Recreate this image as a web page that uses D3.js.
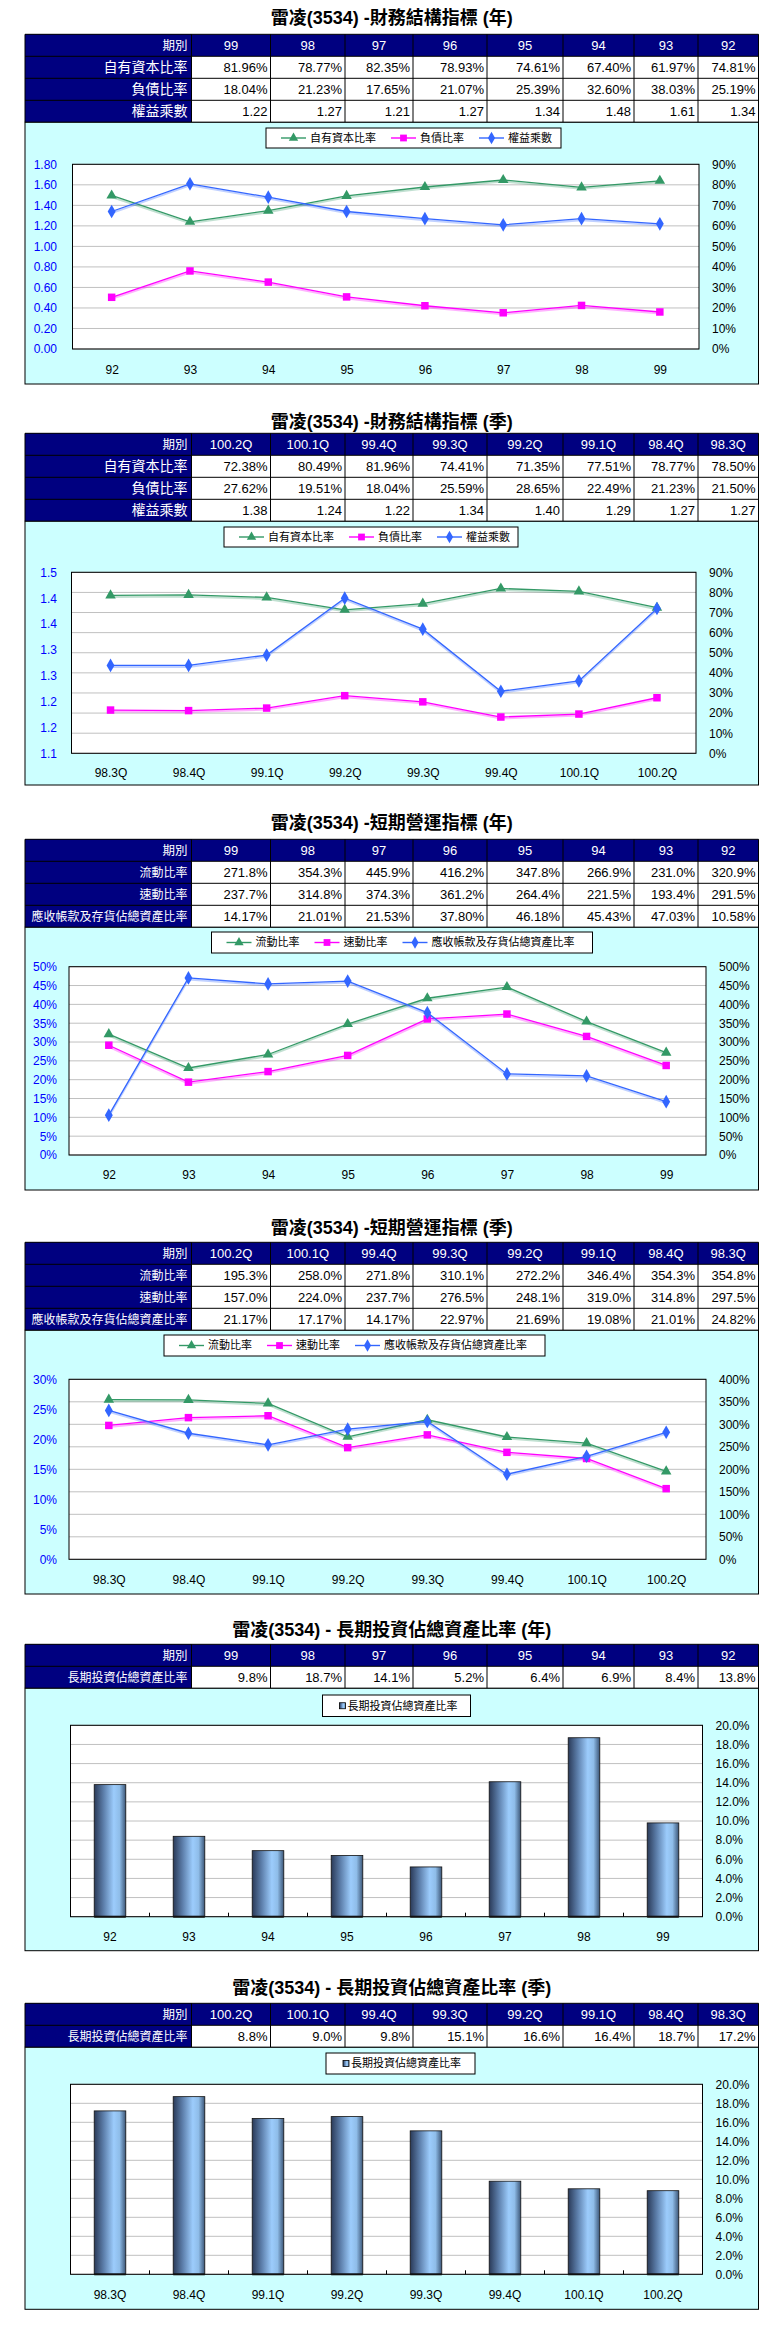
<!DOCTYPE html>
<html><head><meta charset="utf-8">
<script src="https://cdn.jsdelivr.net/npm/d3@7/dist/d3.min.js"></script>
<style>body{margin:0;background:#fff}svg{display:block}</style>
</head><body>
<svg id="c" width="772" height="2334"></svg>
<script>
// ---------------- DATA ----------------
const yearPeriods = ["99","98","97","96","95","94","93","92"];
const quarterPeriods = ["100.2Q","100.1Q","99.4Q","99.3Q","99.2Q","99.1Q","98.4Q","98.3Q"];

// 財務結構指標 (年)
const fsYearEquity = [81.96,78.77,82.35,78.93,74.61,67.40,61.97,74.81];
const fsYearDebt   = [18.04,21.23,17.65,21.07,25.39,32.60,38.03,25.19];
const fsYearMult   = [1.22,1.27,1.21,1.27,1.34,1.48,1.61,1.34];
// 財務結構指標 (季)
const fsQEquity = [72.38,80.49,81.96,74.41,71.35,77.51,78.77,78.50];
const fsQDebt   = [27.62,19.51,18.04,25.59,28.65,22.49,21.23,21.50];
const fsQMult   = [1.38,1.24,1.22,1.34,1.40,1.29,1.27,1.27];
// 短期營運指標 (年)
const stYearCurrent = [271.8,354.3,445.9,416.2,347.8,266.9,231.0,320.9];
const stYearQuick   = [237.7,314.8,374.3,361.2,264.4,221.5,193.4,291.5];
const stYearRecv    = [14.17,21.01,21.53,37.80,46.18,45.43,47.03,10.58];
// 短期營運指標 (季)
const stQCurrent = [195.3,258.0,271.8,310.1,272.2,346.4,354.3,354.8];
const stQQuick   = [157.0,224.0,237.7,276.5,248.1,319.0,314.8,297.5];
const stQRecv    = [21.17,17.17,14.17,22.97,21.69,19.08,21.01,24.82];
// 長期投資佔總資產比率
const ltYear    = [9.8,18.7,14.1,5.2,6.4,6.9,8.4,13.8];
const ltQuarter = [8.8,9.0,9.8,15.1,16.6,16.4,18.7,17.2];

// tick values / labels
const fsYearLeftTicks  = [0,0.2,0.4,0.6,0.8,1.0,1.2,1.4,1.6,1.8];
const pct90Ticks       = [0,10,20,30,40,50,60,70,80,90];
const fsQLeftTicks     = [1.10,1.15,1.20,1.25,1.30,1.35,1.40,1.45];
const fsQLeftLabels    = ["1.1","1.2","1.2","1.3","1.3","1.4","1.4","1.5"];
const pct50Ticks       = [0,5,10,15,20,25,30,35,40,45,50];
const pct500Ticks      = [0,50,100,150,200,250,300,350,400,450,500];
const pct30Ticks       = [0,5,10,15,20,25,30];
const pct400Ticks      = [0,50,100,150,200,250,300,350,400];
const pct20Ticks       = [0,2,4,6,8,10,12,14,16,18,20];

// ---------------- DRAWING ----------------
const svg = d3.select("#c");
const FONT = "'Liberation Sans','Noto Sans CJK TC',sans-serif";
const colX = [25,191.5,270.5,345,413,487,563,634,698,758.5];
const ROWH = 22;
const GREEN="#339966", MAG="#FF00FF", BLUE="#3366FF";

const defs = svg.append("defs");
const grad = defs.append("linearGradient").attr("id","barGrad").attr("x1","0").attr("x2","1").attr("y1","0").attr("y2","0");
[[0,"#2a3a58"],[0.3,"#5d7fab"],[0.62,"#9cccfc"],[0.8,"#8fbde9"],[1,"#3c5677"]].forEach(([o,c])=>grad.append("stop").attr("offset",o).attr("stop-color",c));

function drawTitle(text, cy){
  svg.append("text").attr("x",(colX[0]+colX[9])/2).attr("y",cy).attr("dy","0.36em")
    .attr("text-anchor","middle").attr("font-family",FONT).attr("font-weight","bold")
    .attr("font-size",18).attr("fill","#000").text(text);
}

function drawTable(top, periods, rows, labelSize){
  const g = svg.append("g");
  const n = rows.length+1;
  const W = colX[9]-colX[0];
  g.append("rect").attr("x",colX[0]).attr("y",top).attr("width",W).attr("height",ROWH).attr("fill","#000080");
  g.append("rect").attr("x",colX[0]).attr("y",top).attr("width",colX[1]-colX[0]).attr("height",ROWH*n).attr("fill","#000080");
  g.append("rect").attr("x",colX[1]).attr("y",top+ROWH).attr("width",colX[9]-colX[1]).attr("height",ROWH*rows.length).attr("fill","#fff");
  for(let i=0;i<=n;i++){
    g.append("line").attr("x1",colX[0]).attr("x2",colX[9]).attr("y1",top+ROWH*i).attr("y2",top+ROWH*i).attr("stroke","#000");
  }
  colX.forEach(cx=>g.append("line").attr("x1",cx).attr("x2",cx).attr("y1",top).attr("y2",top+ROWH*n).attr("stroke","#000"));
  // header
  g.append("text").attr("x",colX[1]-4).attr("y",top+ROWH/2).attr("dy","0.36em").attr("text-anchor","end")
    .attr("font-family",FONT).attr("font-size",12.5).attr("fill","#fff").text("期別");
  periods.forEach((p,i)=>{
    g.append("text").attr("x",(colX[i+1]+colX[i+2])/2).attr("y",top+ROWH/2).attr("dy","0.36em").attr("text-anchor","middle")
      .attr("font-family",FONT).attr("font-size",13).attr("fill","#fff").text(p);
  });
  rows.forEach((r,ri)=>{
    const cy = top+ROWH*(ri+1)+ROWH/2;
    g.append("text").attr("x",colX[1]-4).attr("y",cy).attr("dy","0.36em").attr("text-anchor","end")
      .attr("font-family",FONT).attr("font-size",labelSize).attr("fill","#fff").text(r.label);
    r.values.forEach((v,i)=>{
      g.append("text").attr("x",colX[i+2]-3).attr("y",cy).attr("dy","0.36em").attr("text-anchor","end")
        .attr("font-family",FONT).attr("font-size",13).attr("fill","#000").text(r.fmt(v));
    });
  });
}

function symbolFor(m){ return m==="tri"?d3.symbolTriangle:(m==="sq"?d3.symbolSquare:d3.symbolDiamond); }
function sizeFor(m){ return m==="tri"?38:(m==="sq"?46:44); }

function drawBox(top,bottom){
  svg.append("rect").attr("x",colX[0]).attr("y",top).attr("width",colX[9]-colX[0]).attr("height",bottom-top)
    .attr("fill","#CCFFFF").attr("stroke","#000").attr("stroke-width",1);
}

function drawLegend(L, series, bar){
  const g = svg.append("g");
  g.append("rect").attr("x",L.x).attr("y",L.y).attr("width",L.w).attr("height",L.h).attr("fill","#fff").attr("stroke","#000");
  const cy = L.y+L.h/2;
  let cx = L.x+(bar?17:15);
  series.forEach(s=>{
    if(bar){
      g.append("rect").attr("x",cx).attr("y",cy-3).attr("width",6).attr("height",6).attr("fill","url(#barGrad)").attr("stroke","#000").attr("stroke-width",0.8);
      const t = g.append("text").attr("x",cx+8).attr("y",cy).attr("dy","0.36em").attr("font-family",FONT).attr("font-size",11).text(s.name);
      cx += 8 + t.node().getComputedTextLength()+15;
    } else {
      g.append("line").attr("x1",cx).attr("x2",cx+25).attr("y1",cy).attr("y2",cy).attr("stroke",s.color).attr("stroke-width",1.4);
      g.append("path").attr("d",d3.symbol().type(symbolFor(s.marker)).size(sizeFor(s.marker))()).attr("transform",`translate(${cx+12.5},${cy})`).attr("fill",s.color);
      const t = g.append("text").attr("x",cx+29).attr("y",cy).attr("dy","0.36em").attr("font-family",FONT).attr("font-size",11).text(s.name);
      cx += 29 + t.node().getComputedTextLength()+15;
    }
  });
}

function styleAxis(sel, color){
  sel.select(".domain").remove();
  sel.selectAll("text").attr("font-family",FONT).attr("font-size",12).attr("fill",color);
}

function lineChart(o){
  drawBox(o.boxTop,o.boxBottom);
  const p=o.plot;
  const g = svg.append("g");
  g.append("rect").attr("x",p.l).attr("y",p.t).attr("width",p.r-p.l).attr("height",p.b-p.t).attr("fill","#fff");
  const x = d3.scalePoint().domain(o.cats).range([p.l,p.r]).padding(0.5);
  const yL = d3.scaleLinear().domain(o.leftDomain).range([p.b,p.t]);
  const yR = d3.scaleLinear().domain(o.rightDomain).range([p.b,p.t]);
  g.selectAll(null).data(o.rightTicks).enter().append("line")
    .attr("x1",p.l).attr("x2",p.r).attr("y1",d=>yR(d)).attr("y2",d=>yR(d)).attr("stroke","#C0C0C0").attr("stroke-width",1);
  g.append("rect").attr("x",p.l).attr("y",p.t).attr("width",p.r-p.l).attr("height",p.b-p.t).attr("fill","none").attr("stroke","#000");
  g.append("g").attr("transform",`translate(${p.l},0)`)
    .call(d3.axisLeft(yL).tickValues(o.leftTicks).tickFormat(o.leftFmt).tickSize(0).tickPadding(p.l-57))
    .call(s=>styleAxis(s,"#0000FF"));
  g.append("g").attr("transform",`translate(${p.r},0)`)
    .call(d3.axisRight(yR).tickValues(o.rightTicks).tickFormat(o.rightFmt).tickSize(0).tickPadding(13))
    .call(s=>styleAxis(s,"#000"));
  g.append("g").attr("transform",`translate(0,${p.b})`)
    .call(d3.axisBottom(x).tickSize(0).tickPadding(o.xLabelY-p.b-4.3))
    .call(s=>styleAxis(s,"#000"));
  o.series.forEach(s=>{
    const y = s.axis==="left"?yL:yR;
    const line = d3.line().x((d,i)=>x(o.cats[i])).y(d=>y(d));
    g.append("path").datum(s.values).attr("d",line).attr("fill","none").attr("stroke",s.color)
      .attr("stroke-opacity",0.3).attr("stroke-width",2).attr("transform","translate(0,1.5)");
    g.append("path").datum(s.values).attr("d",line).attr("fill","none").attr("stroke",s.color).attr("stroke-width",1.3);
    g.selectAll(null).data(s.values).enter().append("path")
      .attr("d",d3.symbol().type(symbolFor(s.marker)).size(sizeFor(s.marker)+10))
      .attr("transform",(d,i)=>`translate(${x(o.cats[i])},${y(d)})`).attr("fill",s.color);
  });
  drawLegend(o.legend,o.series,false);
}

function barChart(o){
  drawBox(o.boxTop,o.boxBottom);
  const p=o.plot;
  const g = svg.append("g");
  g.append("rect").attr("x",p.l).attr("y",p.t).attr("width",p.r-p.l).attr("height",p.b-p.t).attr("fill","#fff");
  const x = d3.scaleBand().domain(o.cats).range([p.l,p.r]).paddingInner(0.6).paddingOuter(0.3);
  const y = d3.scaleLinear().domain([0,20]).range([p.b,p.t]);
  g.selectAll(null).data(pct20Ticks).enter().append("line")
    .attr("x1",p.l).attr("x2",p.r).attr("y1",d=>y(d)).attr("y2",d=>y(d)).attr("stroke","#C0C0C0");
  g.append("rect").attr("x",p.l).attr("y",p.t).attr("width",p.r-p.l).attr("height",p.b-p.t).attr("fill","none").attr("stroke","#000");
  const step = x.step();
  g.selectAll(null).data(o.cats.slice(1)).enter().append("line")
    .attr("x1",d=>x(d)-step*0.3).attr("x2",d=>x(d)-step*0.3).attr("y1",p.b).attr("y2",p.b-4).attr("stroke","#000");
  g.selectAll(null).data(o.values).enter().append("rect")
    .attr("x",(d,i)=>x(o.cats[i])).attr("width",x.bandwidth())
    .attr("y",d=>y(d)).attr("height",d=>p.b-y(d))
    .attr("fill","url(#barGrad)").attr("stroke","#111").attr("stroke-width",0.8);
  g.selectAll(null).data(o.values).enter().append("line")
    .attr("x1",(d,i)=>x(o.cats[i])).attr("x2",(d,i)=>x(o.cats[i])+x.bandwidth())
    .attr("y1",p.b).attr("y2",p.b).attr("stroke","#111").attr("stroke-width",2);
  g.append("g").attr("transform",`translate(${p.r},0)`)
    .call(d3.axisRight(y).tickValues(pct20Ticks).tickFormat(d=>d.toFixed(1)+"%").tickSize(0).tickPadding(13))
    .call(s=>styleAxis(s,"#000"));
  g.append("g").attr("transform",`translate(0,${p.b})`)
    .call(d3.axisBottom(x).tickSize(0).tickPadding(o.xLabelY-p.b-4.3))
    .call(s=>styleAxis(s,"#000"));
  drawLegend(o.legend,[{name:o.name}],true);
}

const rev = a => a.slice().reverse();
const pct2 = v => v.toFixed(2)+"%";
const pct1 = v => v.toFixed(1)+"%";
const num2 = v => v.toFixed(2);

// ---- Panel 1
drawTitle("雷凌(3534) -財務結構指標 (年)",18);
drawTable(34.3, yearPeriods, [
  {label:"自有資本比率",values:fsYearEquity,fmt:pct2},
  {label:"負債比率",values:fsYearDebt,fmt:pct2},
  {label:"權益乘數",values:fsYearMult,fmt:num2}], 14);
lineChart({boxTop:122.3, boxBottom:384, plot:{l:72.5,r:699,t:164.3,b:349}, xLabelY:370,
  legend:{x:266,y:128,w:295,h:20},
  cats:rev(yearPeriods), leftDomain:[0,1.8], leftTicks:fsYearLeftTicks, leftFmt:d=>d.toFixed(2),
  rightDomain:[0,90], rightTicks:pct90Ticks, rightFmt:d=>d+"%",
  series:[{name:"自有資本比率",color:GREEN,marker:"tri",axis:"right",values:rev(fsYearEquity)},
          {name:"負債比率",color:MAG,marker:"sq",axis:"right",values:rev(fsYearDebt)},
          {name:"權益乘數",color:BLUE,marker:"dia",axis:"left",values:rev(fsYearMult)}]});

// ---- Panel 2
drawTitle("雷凌(3534) -財務結構指標 (季)",421.7);
drawTable(433.3, quarterPeriods, [
  {label:"自有資本比率",values:fsQEquity,fmt:pct2},
  {label:"負債比率",values:fsQDebt,fmt:pct2},
  {label:"權益乘數",values:fsQMult,fmt:num2}], 14);
lineChart({boxTop:521.3, boxBottom:785, plot:{l:71.5,r:696,t:572.3,b:753.3}, xLabelY:773,
  legend:{x:224,y:527,w:294,h:20},
  cats:rev(quarterPeriods), leftDomain:[1.1,1.45], leftTicks:fsQLeftTicks, leftFmt:(d,i)=>fsQLeftLabels[i],
  rightDomain:[0,90], rightTicks:pct90Ticks, rightFmt:d=>d+"%",
  series:[{name:"自有資本比率",color:GREEN,marker:"tri",axis:"right",values:rev(fsQEquity)},
          {name:"負債比率",color:MAG,marker:"sq",axis:"right",values:rev(fsQDebt)},
          {name:"權益乘數",color:BLUE,marker:"dia",axis:"left",values:rev(fsQMult)}]});

// ---- Panel 3
drawTitle("雷凌(3534) -短期營運指標 (年)",823);
drawTable(839.3, yearPeriods, [
  {label:"流動比率",values:stYearCurrent,fmt:pct1},
  {label:"速動比率",values:stYearQuick,fmt:pct1},
  {label:"應收帳款及存貨佔總資產比率",values:stYearRecv,fmt:pct2}], 12);
lineChart({boxTop:927.3, boxBottom:1190, plot:{l:69,r:706,t:966.7,b:1155}, xLabelY:1175,
  legend:{x:211.5,y:932,w:381,h:21},
  cats:rev(yearPeriods), leftDomain:[0,50], leftTicks:pct50Ticks, leftFmt:d=>d+"%",
  rightDomain:[0,500], rightTicks:pct500Ticks, rightFmt:d=>d+"%",
  series:[{name:"流動比率",color:GREEN,marker:"tri",axis:"right",values:rev(stYearCurrent)},
          {name:"速動比率",color:MAG,marker:"sq",axis:"right",values:rev(stYearQuick)},
          {name:"應收帳款及存貨佔總資產比率",color:BLUE,marker:"dia",axis:"left",values:rev(stYearRecv)}]});

// ---- Panel 4
drawTitle("雷凌(3534) -短期營運指標 (季)",1228);
drawTable(1242.3, quarterPeriods, [
  {label:"流動比率",values:stQCurrent,fmt:pct1},
  {label:"速動比率",values:stQQuick,fmt:pct1},
  {label:"應收帳款及存貨佔總資產比率",values:stQRecv,fmt:pct2}], 12);
lineChart({boxTop:1330.3, boxBottom:1594, plot:{l:69,r:706,t:1379.3,b:1559.3}, xLabelY:1580,
  legend:{x:164,y:1335,w:381,h:21},
  cats:rev(quarterPeriods), leftDomain:[0,30], leftTicks:pct30Ticks, leftFmt:d=>d+"%",
  rightDomain:[0,400], rightTicks:pct400Ticks, rightFmt:d=>d+"%",
  series:[{name:"流動比率",color:GREEN,marker:"tri",axis:"right",values:rev(stQCurrent)},
          {name:"速動比率",color:MAG,marker:"sq",axis:"right",values:rev(stQQuick)},
          {name:"應收帳款及存貨佔總資產比率",color:BLUE,marker:"dia",axis:"left",values:rev(stQRecv)}]});

// ---- Panel 5
drawTitle("雷凌(3534) - 長期投資佔總資產比率 (年)",1630);
drawTable(1644.3, yearPeriods, [
  {label:"長期投資佔總資產比率",values:ltYear,fmt:pct1}], 12);
barChart({boxTop:1688.3, boxBottom:1950.7, plot:{l:70.5,r:702.5,t:1725.3,b:1916.7}, xLabelY:1937,
  legend:{x:322.5,y:1695,w:148,h:21.5}, name:"長期投資佔總資產比率",
  cats:rev(yearPeriods), values:rev(ltYear)});

// ---- Panel 6
drawTitle("雷凌(3534) - 長期投資佔總資產比率 (季)",1988);
drawTable(2003.3, quarterPeriods, [
  {label:"長期投資佔總資產比率",values:ltQuarter,fmt:pct1}], 12);
barChart({boxTop:2047.3, boxBottom:2309.3, plot:{l:70.5,r:702.5,t:2084.3,b:2274.3}, xLabelY:2295,
  legend:{x:326,y:2053,w:149,h:21}, name:"長期投資佔總資產比率",
  cats:rev(quarterPeriods), values:rev(ltQuarter)});
</script>
</body></html>
